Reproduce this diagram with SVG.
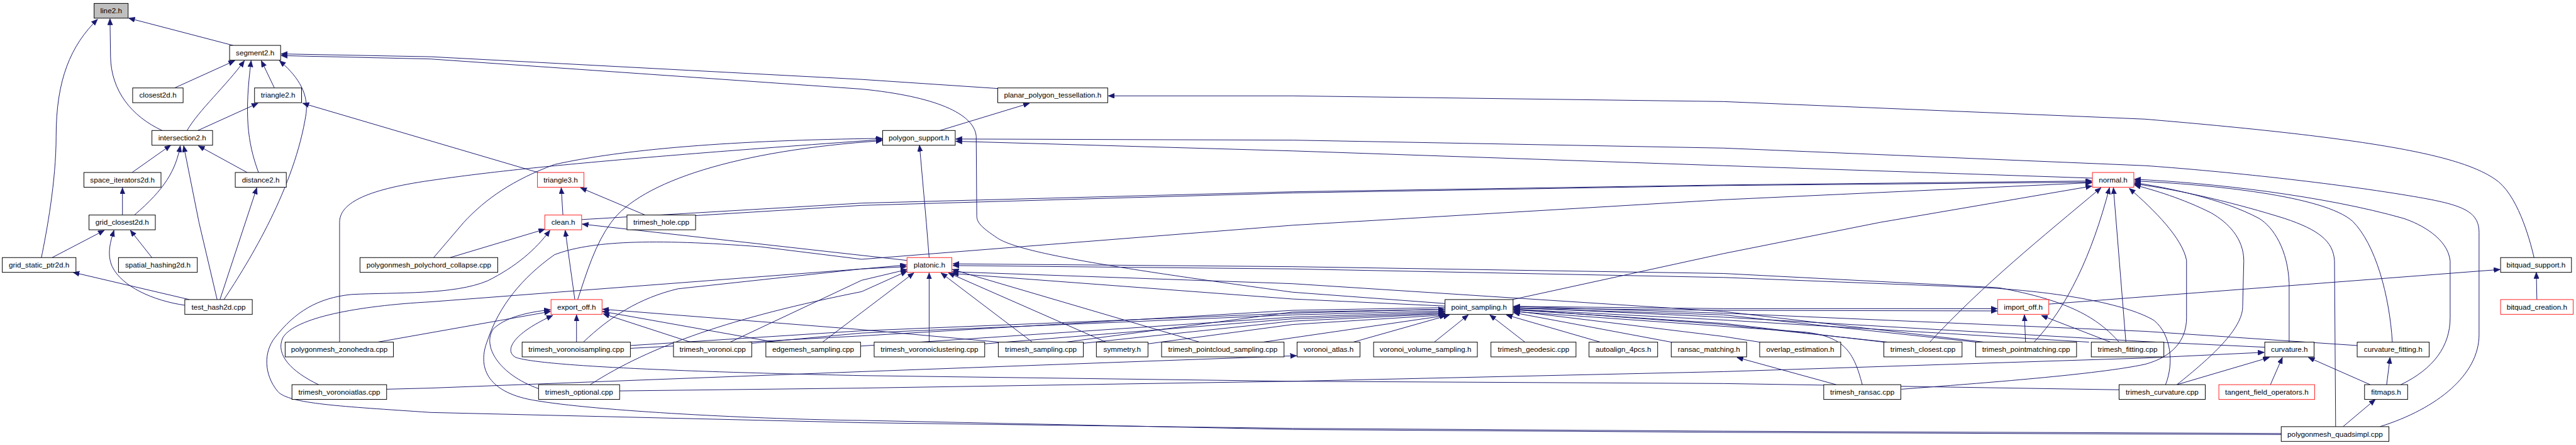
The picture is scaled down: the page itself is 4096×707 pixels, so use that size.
<svg xmlns="http://www.w3.org/2000/svg" width="4096" height="707" viewBox="0 0 4096 707">
<style>
.n rect{fill:#fff;stroke:#000;stroke-width:1.1}
.n.r rect{stroke:#ff2020}
.n.g rect{fill:#bfbfbf}
.n text{font-family:"Liberation Sans",Arial,sans-serif;font-size:13px;text-anchor:middle;fill:#000}
#edges path{fill:none;stroke:#191970;stroke-width:1.1;marker-end:url(#a)}
</style>
<defs>
<marker id="a" markerUnits="userSpaceOnUse" markerWidth="12" markerHeight="10" refX="11" refY="4.5" orient="auto" viewBox="0 0 12 10"><path d="M0,0 L11,4.5 L0,9 z" fill="#191970" stroke="#191970" stroke-width="0.8"/></marker>
</defs>
<rect width="4096" height="707" fill="#fff"/>
<g transform="scale(0.90141)">
<g id="edges">
<path d="M411,80 L227,32"/>
<path d="M286,230 C232,205 196,160 195,100 L194,33"/>
<path d="M73,454 C82,410 99,320 99,240 C99,140 125,80 172,34"/>
<path d="M308,155 L414,107"/>
<path d="M330,230 C350,195 400,150 431,107"/>
<path d="M456,304 C436,250 431,200 443,107"/>
<path d="M484,155 L461,107"/>
<path d="M395,528 C440,460 520,330 540,200 C545,160 520,130 493,107"/>
<path d="M349,230 L455,182"/>
<path d="M949,304 L534,182"/>
<path d="M233,304 L301,256"/>
<path d="M237,379 C291,333 310,300 318,257"/>
<path d="M383,528 L351,392 L324,257"/>
<path d="M436,304 L350,257"/>
<path d="M216,379 L216,331"/>
<path d="M388,528 L453,331"/>
<path d="M92,454 L184,406"/>
<path d="M268,454 L230,406"/>
<path d="M326,538 C270,530 215,505 198,470 C188,448 195,425 201,406"/>
<path d="M334,528 L129,480"/>
<path d="M993,379 L990,331"/>
<path d="M1138,379 L1024,331"/>
<path d="M794,454 L961,404"/>
<path d="M1014,528 L997,406"/>
<path d="M1600,459 L1027,395"/>
<path d="M4024,764 L3040,760 L2280,755 L1520,745 L760,727 C600,716 510,712 490,690 C465,660 465,620 485,595 C520,550 560,525 620,519 C700,515 800,520 860,495 C910,470 945,440 970,406"/>
<path d="M4024,766 L3040,762 L2280,757 L1520,741 C1342,739 1051,725 939,705 C857,690 842,645 860,600 C880,540 920,490 978,449 C1040,425 1148,420 1342,435 L1520,457 L2280,397 L3040,352 L3690,322"/>
<path d="M765,454 L818,392 C857,350 905,317 978,290 C1099,263 1293,247 1556,244"/>
<path d="M599,603 L599,392 C599,360 640,335 760,318 C850,305 1000,285 1556,246"/>
<path d="M1019,528 C1035,480 1050,430 1078,392 C1130,320 1300,265 1556,248"/>
<path d="M666,603 L971,549"/>
<path d="M562,678 C514,655 485,625 499,595 C520,560 630,539 760,532 L1520,474 L1599,467"/>
<path d="M682,686 L760,684 L1520,655 L2287,627"/>
<path d="M1017,603 L1017,555"/>
<path d="M1029,603 C1075,559 1128,525 1196,509 L1520,474 L1599,470"/>
<path d="M1218,603 L1064,553"/>
<path d="M1366,603 L1063,549"/>
<path d="M1762,603 L1520,581 L1063,545"/>
<path d="M1288,603 L1520,494 L1600,475"/>
<path d="M1451,603 L1612,481"/>
<path d="M1041,678 C1148,609 1293,559 1520,514 L1600,478"/>
<path d="M1639,603 L1639,481"/>
<path d="M1821,603 L1660,481"/>
<path d="M1951,603 L1673,481"/>
<path d="M2116,603 L1680,475"/>
<path d="M3738,603 C3700,560 3650,530 3525,507 L3040,482 L2280,470 L1681,465"/>
<path d="M3820,678 C3835,640 3830,590 3800,565 C3760,540 3650,515 3500,507 L3040,489 L2280,474 L1681,468"/>
<path d="M2668,528 L3040,447 L3316,392 L3690,328"/>
<path d="M3404,603 C3500,500 3600,420 3706,331"/>
<path d="M3588,603 C3646,542 3690,450 3721,331"/>
<path d="M3750,603 L3728,331"/>
<path d="M3354,686 C3500,675 3700,660 3784,642 C3832,629 3857,600 3857,560 L3857,459 C3850,420 3800,370 3756,332"/>
<path d="M3840,678 C3900,630 3956,580 3956,540 L3958,460 C3958,420 3930,392 3900,375 C3850,350 3800,335 3765,326"/>
<path d="M4038,603 L4038,500 C4036,440 4010,400 3985,385 C3920,350 3820,330 3765,322"/>
<path d="M4220,603 C4215,520 4190,430 4150,390 C4100,345 3900,325 3765,319"/>
<path d="M4235,678 C4293,650 4322,610 4322,560 L4322,460 C4318,420 4270,395 4240,385 C4100,345 3900,322 3765,316"/>
<path d="M4120,752 L4118,460 C4116,425 4090,405 4030,385 C3950,360 3850,335 3765,324"/>
<path d="M3691,314 L3040,292 L2280,266 L1686,249"/>
<path d="M4198,752 C4300,720 4373,660 4373,590 L4373,410 C4373,370 4340,360 4250,345 C4100,320 3900,300 3784,292 L3040,261 L2280,247 L1686,245"/>
<path d="M4470,454 C4462,420 4440,340 4400,315 C4340,275 4200,245 3784,210 L3040,179 L2280,169 L1955,169"/>
<path d="M4475,528 L4474,480"/>
<path d="M3614,536 L4410,475"/>
<path d="M1026,387 L1520,358 L2280,338 L3040,326 L3690,319"/>
<path d="M1227,380 L1520,362 L2280,340 L3040,327 L3690,321"/>
<path d="M1760,156 L1520,140 L760,100 L496,95"/>
<path d="M2549,535 L2280,515 C1950,470 1800,445 1760,420 C1730,400 1723,392 1723,380 L1722,240 C1718,200 1650,170 1520,157 L760,104 L496,98"/>
<path d="M1658,230 L1816,182"/>
<path d="M1639,454 L1634,392 L1622,256"/>
<path d="M1112,609 L1520,583 L2280,552 L2548,545"/>
<path d="M1326,605 L1520,587 L2280,555 L2548,548"/>
<path d="M1518,610 L2280,559 L2548,550"/>
<path d="M1737,606 L2280,562 L2548,552"/>
<path d="M1911,605 L2280,566 L2549,553"/>
<path d="M2025,606 L2280,572 L2550,555"/>
<path d="M2228,603 L2551,556"/>
<path d="M1112,614 L1520,592 L2280,547 L2669,540 L3040,544 L3523,544"/>
<path d="M1880,603 L2280,550 L2669,543 L3040,547 L3523,548"/>
<path d="M3573,603 L3571,555"/>
<path d="M3723,603 L3601,556"/>
<path d="M2387,603 L2557,555"/>
<path d="M2530,603 L2590,555"/>
<path d="M2690,603 L2628,555"/>
<path d="M2823,603 L2657,555"/>
<path d="M2948,603 L2670,551"/>
<path d="M3104,603 L3040,593 L2670,548"/>
<path d="M3323,603 L3040,570 L2670,546"/>
<path d="M3486,603 L3040,555 L2670,543"/>
<path d="M3685,603 L3040,564 L2670,545"/>
<path d="M3285,678 C3270,620 3253,592 3180,585 L2670,549"/>
<path d="M4158,609 L3784,584 L3040,552 L2670,540"/>
<path d="M3995,612 L3784,602 L3040,559 L2670,542"/>
<path d="M3500,603 L3040,549 L2280,500 L1680,479"/>
<path d="M3330,603 L3040,572 L2669,545 L2280,527 L1680,482"/>
<path d="M3239,678 L3064,630"/>
<path d="M950,685 C880,660 850,610 870,580 C890,560 930,550 971,546"/>
<path d="M3738,687 L3040,676 L2280,672 L1520,662 C1196,655 954,645 910,630 C890,620 900,590 975,556"/>
<path d="M1093,689 L1520,684 L2280,672 L3040,655 L3784,631 L3994,621"/>
<path d="M3840,678 L4003,630"/>
<path d="M4005,678 L4026,630"/>
<path d="M4181,678 L4072,630"/>
<path d="M4210,678 L4216,630"/>
<path d="M4133,752 L4190,704"/>
</g>
<g id="n1" class="n g"><rect x="166" y="6" width="60" height="26"/><text x="196" y="23.5">line2.h</text></g>
<g id="n2" class="n"><rect x="405" y="80" width="90" height="26"/><text x="450" y="97.5">segment2.h</text></g>
<g id="n3" class="n"><rect x="234" y="155" width="89" height="26"/><text x="278.5" y="172.5">closest2d.h</text></g>
<g id="n4" class="n"><rect x="449" y="155" width="83" height="26"/><text x="490.5" y="172.5">triangle2.h</text></g>
<g id="n5" class="n"><rect x="1760" y="155" width="194" height="26"/><text x="1857" y="172.5">planar_polygon_tessellation.h</text></g>
<g id="n6" class="n"><rect x="268" y="230" width="107" height="26"/><text x="321.5" y="247.5">intersection2.h</text></g>
<g id="n7" class="n"><rect x="1557" y="230" width="128" height="26"/><text x="1621" y="247.5">polygon_support.h</text></g>
<g id="n8" class="n"><rect x="148" y="304" width="136" height="26"/><text x="216" y="321.5">space_iterators2d.h</text></g>
<g id="n9" class="n"><rect x="415" y="304" width="90" height="26"/><text x="460" y="321.5">distance2.h</text></g>
<g id="n10" class="n r"><rect x="948" y="304" width="82" height="26"/><text x="989" y="321.5">triangle3.h</text></g>
<g id="n11" class="n r"><rect x="3691" y="304" width="73" height="26"/><text x="3727.5" y="321.5">normal.h</text></g>
<g id="n12" class="n"><rect x="157" y="379" width="117" height="26"/><text x="215.5" y="396.5">grid_closest2d.h</text></g>
<g id="n13" class="n r"><rect x="961" y="379" width="65" height="26"/><text x="993.5" y="396.5">clean.h</text></g>
<g id="n14" class="n"><rect x="1106" y="379" width="121" height="26"/><text x="1166.5" y="396.5">trimesh_hole.cpp</text></g>
<g id="n15" class="n"><rect x="4" y="454" width="130" height="26"/><text x="69" y="471.5">grid_static_ptr2d.h</text></g>
<g id="n16" class="n"><rect x="209" y="454" width="139" height="26"/><text x="278.5" y="471.5">spatial_hashing2d.h</text></g>
<g id="n17" class="n"><rect x="635" y="454" width="243" height="26"/><text x="756.5" y="471.5">polygonmesh_polychord_collapse.cpp</text></g>
<g id="n18" class="n r"><rect x="1600" y="454" width="79" height="26"/><text x="1639.5" y="471.5">platonic.h</text></g>
<g id="n19" class="n"><rect x="4411" y="454" width="125" height="26"/><text x="4473.5" y="471.5">bitquad_support.h</text></g>
<g id="n20" class="n"><rect x="326" y="528" width="119" height="26"/><text x="385.5" y="545.5">test_hash2d.cpp</text></g>
<g id="n21" class="n r"><rect x="972" y="528" width="90" height="26"/><text x="1017" y="545.5">export_off.h</text></g>
<g id="n22" class="n"><rect x="2549" y="528" width="120" height="26"/><text x="2609" y="545.5">point_sampling.h</text></g>
<g id="n23" class="n r"><rect x="3524" y="528" width="90" height="26"/><text x="3569" y="545.5">import_off.h</text></g>
<g id="n24" class="n r"><rect x="4411" y="528" width="128" height="26"/><text x="4475" y="545.5">bitquad_creation.h</text></g>
<g id="n25" class="n"><rect x="503" y="603" width="191" height="26"/><text x="598.5" y="620.5">polygonmesh_zonohedra.cpp</text></g>
<g id="n26" class="n"><rect x="921" y="603" width="191" height="26"/><text x="1016.5" y="620.5">trimesh_voronoisampling.cpp</text></g>
<g id="n27" class="n"><rect x="1188" y="603" width="138" height="26"/><text x="1257" y="620.5">trimesh_voronoi.cpp</text></g>
<g id="n28" class="n"><rect x="1351" y="603" width="167" height="26"/><text x="1434.5" y="620.5">edgemesh_sampling.cpp</text></g>
<g id="n29" class="n"><rect x="1542" y="603" width="195" height="26"/><text x="1639.5" y="620.5">trimesh_voronoiclustering.cpp</text></g>
<g id="n30" class="n"><rect x="1761" y="603" width="150" height="26"/><text x="1836" y="620.5">trimesh_sampling.cpp</text></g>
<g id="n31" class="n"><rect x="1934" y="603" width="91" height="26"/><text x="1979.5" y="620.5">symmetry.h</text></g>
<g id="n32" class="n"><rect x="2049" y="603" width="216" height="26"/><text x="2157" y="620.5">trimesh_pointcloud_sampling.cpp</text></g>
<g id="n33" class="n"><rect x="2288" y="603" width="111" height="26"/><text x="2343.5" y="620.5">voronoi_atlas.h</text></g>
<g id="n34" class="n"><rect x="2423" y="603" width="183" height="26"/><text x="2514.5" y="620.5">voronoi_volume_sampling.h</text></g>
<g id="n35" class="n"><rect x="2630" y="603" width="150" height="26"/><text x="2705" y="620.5">trimesh_geodesic.cpp</text></g>
<g id="n36" class="n"><rect x="2803" y="603" width="121" height="26"/><text x="2863.5" y="620.5">autoalign_4pcs.h</text></g>
<g id="n37" class="n"><rect x="2948" y="603" width="133" height="26"/><text x="3014.5" y="620.5">ransac_matching.h</text></g>
<g id="n38" class="n"><rect x="3104" y="603" width="143" height="26"/><text x="3175.5" y="620.5">overlap_estimation.h</text></g>
<g id="n39" class="n"><rect x="3323" y="603" width="138" height="26"/><text x="3392" y="620.5">trimesh_closest.cpp</text></g>
<g id="n40" class="n"><rect x="3485" y="603" width="178" height="26"/><text x="3574" y="620.5">trimesh_pointmatching.cpp</text></g>
<g id="n41" class="n"><rect x="3689" y="603" width="128" height="26"/><text x="3753" y="620.5">trimesh_fitting.cpp</text></g>
<g id="n42" class="n"><rect x="3995" y="603" width="87" height="26"/><text x="4038.5" y="620.5">curvature.h</text></g>
<g id="n43" class="n"><rect x="4158" y="603" width="127" height="26"/><text x="4221.5" y="620.5">curvature_fitting.h</text></g>
<g id="n44" class="n"><rect x="515" y="678" width="167" height="26"/><text x="598.5" y="695.5">trimesh_voronoiatlas.cpp</text></g>
<g id="n45" class="n"><rect x="950" y="678" width="143" height="26"/><text x="1021.5" y="695.5">trimesh_optional.cpp</text></g>
<g id="n46" class="n"><rect x="3217" y="678" width="136" height="26"/><text x="3285" y="695.5">trimesh_ransac.cpp</text></g>
<g id="n47" class="n"><rect x="3738" y="678" width="152" height="26"/><text x="3814" y="695.5">trimesh_curvature.cpp</text></g>
<g id="n48" class="n r"><rect x="3914" y="678" width="169" height="26"/><text x="3998.5" y="695.5">tangent_field_operators.h</text></g>
<g id="n49" class="n"><rect x="4171" y="678" width="76" height="26"/><text x="4209" y="695.5">fitmaps.h</text></g>
<g id="n50" class="n"><rect x="4024" y="752" width="190" height="26"/><text x="4119" y="769.5">polygonmesh_quadsimpl.cpp</text></g>
</g>
</svg>
